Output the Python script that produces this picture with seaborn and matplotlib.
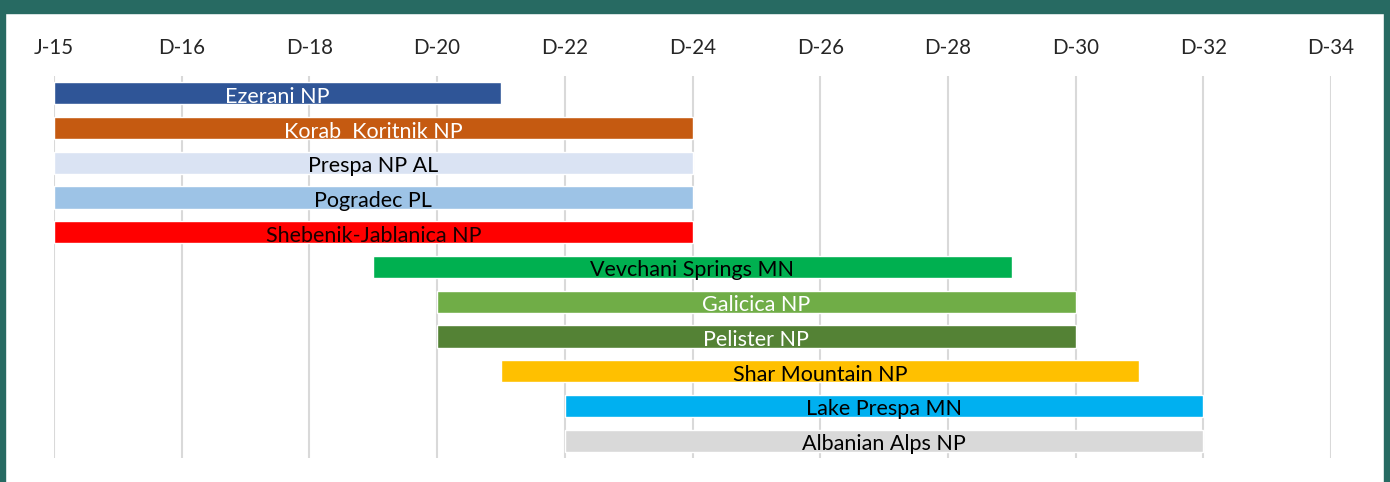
import matplotlib
matplotlib.use("Agg")
import matplotlib.pyplot as plt
from matplotlib.patches import Rectangle
import seaborn as sns

# parks and their time windows (in tick units, 0 = J-15)
parks = ['Ezerani NP', 'Korab  Koritnik NP', 'Prespa NP AL', 'Pogradec PL',
         'Shebenik-Jablanica NP', 'Vevchani Springs MN', 'Galicica NP',
         'Pelister NP', 'Shar Mountain NP', 'Lake Prespa MN', 'Albanian Alps NP']
start = [0, 0, 0, 0, 0, 2.5, 3, 3, 3.5, 4, 4]
end = [3.5, 5, 5, 5, 5, 7.5, 8, 8, 8.5, 9, 9]
bar_colors = ['#2F5597', '#C55A11', '#DAE3F3', '#9DC3E6', '#FF0000', '#00B050',
              '#70AD47', '#548235', '#FFC000', '#00B0F0', '#D9D9D9']
text_colors = ['white', 'white', 'black', 'black', '#1a0000', 'black',
               'white', 'white', 'black', 'black', 'black']
tick_labels = ['J-15', 'D-16', 'D-18', 'D-20', 'D-22', 'D-24',
               'D-26', 'D-28', 'D-30', 'D-32', 'D-34']

sns.set_theme(style='white')
plt.rcParams['font.family'] = ['Lato', 'DejaVu Sans']

fig = plt.figure(figsize=(13.9, 4.82), dpi=100)
ax = fig.add_axes([54/1390, 1 - 458/482, (1331 - 54)/1390, (458 - 76)/482])

widths = [e - s for s, e in zip(start, end)]
ypos = list(range(len(parks)))
ax.barh(ypos, widths, left=start, height=0.64, color=bar_colors, zorder=3)

for y, s, w, name, tc in zip(ypos, start, widths, parks, text_colors):
    ax.text(s + w / 2, y + 0.1, name, ha='center', va='center',
            fontsize=15.5, color=tc, zorder=4)

ax.set_xlim(0, 10)
ax.set_ylim(10.5, -0.5)
ax.set_xticks(range(len(tick_labels)))
ax.set_xticklabels(tick_labels, fontsize=14.8)
ax.xaxis.tick_top()
ax.tick_params(axis='x', length=0, pad=13)
ax.set_yticks([])
ax.grid(axis='x', color='#D9D9D9', linewidth=1.5, zorder=0)
sns.despine(ax=ax, left=True, bottom=True, top=True, right=True)

# teal frame around the chart
frame = '#276A62'
fig.patches.append(Rectangle((0, 1 - 13/482), 1, 13/482, transform=fig.transFigure,
                             color=frame, zorder=10))
fig.patches.append(Rectangle((0, 0), 5/1390, 1, transform=fig.transFigure,
                             color=frame, zorder=10))
fig.patches.append(Rectangle((1 - 6/1390, 0), 6/1390, 1, transform=fig.transFigure,
                             color=frame, zorder=10))

fig.savefig('out.png', dpi=100)
